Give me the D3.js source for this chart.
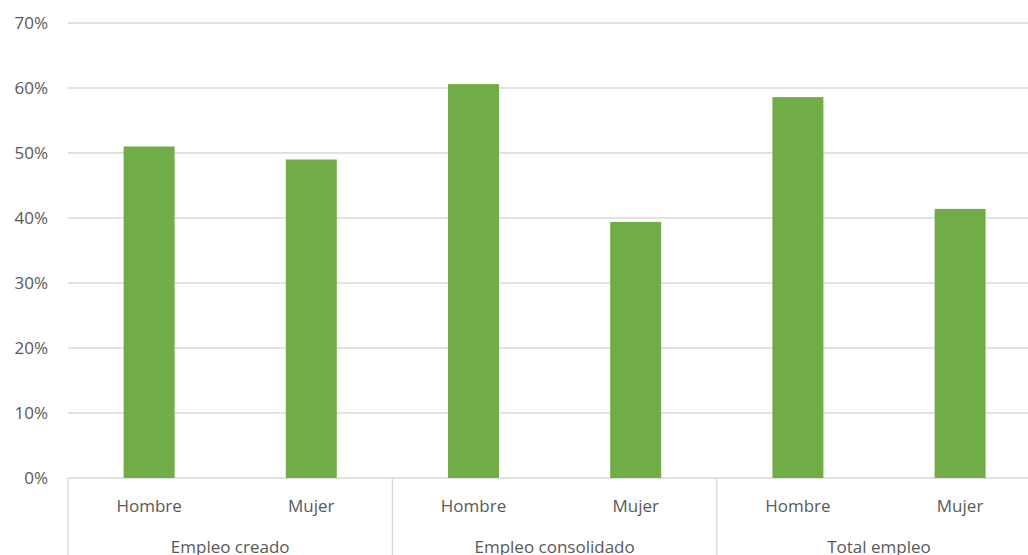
<!DOCTYPE html>
<html>
<head>
<meta charset="utf-8">
<script src="https://cdn.jsdelivr.net/npm/d3@7"></script>
<style>
  body { margin: 0; background: #fff; }
  svg { display: block; font-family: "Open Sans", sans-serif; }
  .tick text { fill: #595959; font-size: 17px; }
  .grid line { stroke: #d9d9d9; stroke-width: 1.3; }
</style>
</head>
<body>
<div id="main"></div>
<script>
var width = 1028,
    height = 555;

// chart values
var groups = ["Empleo creado", "Empleo consolidado", "Total empleo"];
var sexes = ["Hombre", "Mujer"];
var values = [0.510, 0.490, 0.606, 0.394, 0.586, 0.414];
var yTicks = [0, 0.1, 0.2, 0.3, 0.4, 0.5, 0.6, 0.7];

var plotLeft = 68, plotBottom = 478, plotTop = 23,
    step = 162.2;

var svg = d3.select("div#main").append("svg")
    .attr("width", width)
    .attr("height", height);

var rows = [];
groups.forEach(function(g, gi) {
    sexes.forEach(function(s, si) {
        rows.push({ id: gi * 2 + si, group: g, sex: s, value: values[gi * 2 + si] });
    });
});

var x = d3.scaleBand()
    .domain(rows.map(function(d) { return d.id }))
    .range([plotLeft, plotLeft + step * rows.length])
    .padding(0);

var y = d3.scaleLinear()
    .domain([0, 0.7])
    .range([plotBottom, plotTop]);

// gridlines
svg.append("g")
    .attr("class", "grid")
    .selectAll("line")
    .data(yTicks)
    .enter().append("line")
    .attr("x1", plotLeft)
    .attr("x2", width)
    .attr("y1", function(d) { return y(d) })
    .attr("y2", function(d) { return y(d) });

// y axis labels
var yAxis = svg.append("g")
    .attr("transform", `translate(${plotLeft},0)`)
    .call(d3.axisLeft(y).tickValues(yTicks).tickSize(0).tickPadding(20)
          .tickFormat(d3.format(".0%")));
yAxis.attr("font-family", "Open Sans, sans-serif");
yAxis.select(".domain").remove();

// bars
var bw = 51;
svg.selectAll(".bar")
    .data(rows)
    .enter().append("rect")
    .attr("class", "bar")
    .attr("x", function(d) { return x(d.id) + x.bandwidth() / 2 - bw / 2 })
    .attr("width", bw)
    .attr("y", function(d) { return y(d.value) })
    .attr("height", function(d) { return y(0) - y(d.value) })
    .attr("fill", "#70ad47");

// category axis: separators between groups
var seps = d3.range(groups.length + 1).map(function(i) {
    return i < groups.length ? x(i * 2) : plotLeft + step * rows.length;
});
svg.selectAll(".sep")
    .data(seps)
    .enter().append("line")
    .attr("class", "sep")
    .attr("x1", function(d) { return d })
    .attr("x2", function(d) { return d })
    .attr("y1", plotBottom)
    .attr("y2", height)
    .attr("stroke", "#d9d9d9")
    .attr("stroke-width", 1.3);

svg.selectAll(".sexlab")
    .data(rows)
    .enter().append("text")
    .attr("class", "sexlab")
    .attr("x", function(d) { return x(d.id) + x.bandwidth() / 2 })
    .attr("y", 512)
    .attr("text-anchor", "middle")
    .attr("fill", "#595959")
    .attr("font-size", 17)
    .text(function(d) { return d.sex });

// group labels sit at the bottom edge, partly cut as in the original
svg.selectAll(".grouplab")
    .data(groups)
    .enter().append("text")
    .attr("class", "grouplab")
    .attr("x", function(d, i) { return x(i * 2) + x.bandwidth() })
    .attr("y", 553)
    .attr("text-anchor", "middle")
    .attr("fill", "#595959")
    .attr("font-size", 17)
    .text(function(d) { return d });
</script>
</body>
</html>
